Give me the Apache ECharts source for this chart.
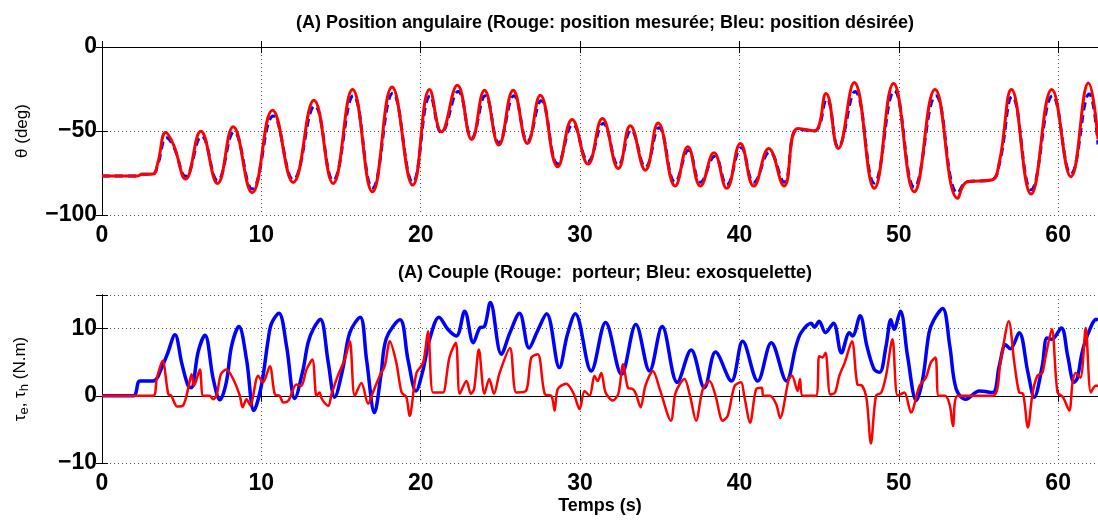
<!DOCTYPE html>
<html>
<head>
<meta charset="utf-8">
<script src="https://cdn.jsdelivr.net/npm/echarts@6/dist/echarts.min.js"></script>
<style>
html,body{margin:0;padding:0;background:#fff;}
#chart{width:1098px;height:521px;}
</style>
</head>
<body>
<div id="chart"></div>
<script>
// ---------- DATA (time in s, value) ----------
const titleTop = "(A) Position angulaire (Rouge: position mesurée; Bleu: position désirée)";
const titleBottom = "(A) Couple (Rouge:  porteur; Bleu: exosquelette)";
const xTicks = [0, 10, 20, 30, 40, 50, 60];
const topYTicks = [-100, -50, 0];
const bottomYTicks = [-10, 0, 10];

// Top: measured position (red)
const posMeasured = [[0,-76.8],[2.2,-76.8],[2.5,-75.8],[3.2,-75.6],[3.5,-69],[4.0,-50.9],[4.5,-58.5],[5.25,-78.6],[6.2,-50.1],[7.25,-81.2],[8.23,-47.5],[9.42,-86.7],[10.7,-37.6],[12.0,-80.6],[13.3,-31.7],[14.5,-81.2],[15.72,-25.3],[16.97,-86.2],[18.2,-23.8],[19.5,-82.2],[20.56,-25.3],[21.3,-50.5],[22.3,-22.8],[23.2,-55],[24.0,-25.7],[24.9,-58.4],[25.8,-25.7],[26.7,-57.4],[27.5,-28.7],[28.6,-71.3],[29.5,-43.1],[30.5,-69.7],[31.4,-42.6],[32.4,-72.3],[33.15,-46.9],[34.1,-73.3],[34.9,-45.2],[35.97,-82.8],[36.76,-59.4],[37.55,-82.8],[38.4,-63],[39.2,-84.1],[40.06,-57.4],[40.9,-82.8],[41.84,-60.4],[42.8,-82.8],[43.65,-48.5],[44.7,-49.9],[45.43,-27.7],[46.2,-60.4],[47.2,-21.2],[48.46,-84.1],[49.67,-21.8],[50.97,-86.2],[52.27,-25.3],[53.7,-90.1],[54.3,-80.2],[55.8,-79.2],[56.3,-69],[57.07,-25.3],[58.3,-87.5],[59.6,-25.3],[60.8,-77.2],[61.9,-21.4],[62.5,-55]];

// Top: desired position (blue dashed)
const posDesired = [[0,-76.8],[2.2,-76.8],[2.5,-75.8],[3.2,-75.6],[3.5,-70],[4.05,-54],[4.5,-59.5],[5.25,-77],[6.25,-53],[7.25,-79.5],[8.28,-50.5],[9.42,-84.5],[10.75,-41],[12.0,-79],[13.35,-35],[14.5,-79.5],[15.77,-29],[16.97,-84],[18.25,-27.5],[19.5,-80.5],[20.6,-29],[21.3,-51],[22.35,-26.5],[23.2,-54],[24.05,-29],[24.9,-57],[25.85,-29],[26.7,-56],[27.55,-32],[28.6,-69.5],[29.55,-46],[30.5,-68],[31.45,-45.5],[32.4,-70.5],[33.2,-49.5],[34.1,-71.5],[34.95,-48],[35.97,-80.5],[36.8,-61.5],[37.55,-80.5],[38.45,-65],[39.2,-82],[40.1,-60],[40.9,-80.5],[41.9,-62.5],[42.8,-80.5],[43.65,-49],[44.7,-50],[45.48,-31],[46.2,-59.5],[47.25,-26.5],[48.46,-81],[49.72,-26],[50.97,-83.5],[52.32,-29],[53.7,-87],[54.3,-80.2],[55.8,-79.2],[56.3,-70],[57.12,-29.5],[58.3,-85],[59.65,-29],[60.8,-75.5],[61.95,-28],[62.5,-58]];

// Bottom: exoskeleton torque (blue)
const torqueExo = [[0,0],[1.96,0],[2.38,2.2],[3.2,2.2],[3.45,2.6],[3.7,3.9],[4.1,6.2],[4.58,9.1],[5.0,4.9],[5.4,1.5],[5.6,1.2],[6.04,6.6],[6.46,9.0],[6.98,2.5],[7.4,-0.6],[7.8,2.0],[8.13,7.4],[8.59,10.3],[9.07,5.4],[9.53,-2.2],[10.0,1.5],[10.43,8.4],[10.64,10.8],[11.1,12.3],[11.58,7.4],[12.1,-0.4],[12.6,3.7],[12.93,7.9],[13.25,9.9],[13.7,11.4],[14.2,4.9],[14.6,-0.2],[15.1,3.9],[15.55,9.4],[16.2,11.7],[16.6,5.4],[17.1,-2.5],[17.5,3.0],[17.85,8.6],[18.7,11.3],[19.2,5.4],[19.7,0.7],[20.15,3.9],[20.56,8.4],[21.15,11.7],[21.7,9.9],[22.24,8.9],[22.76,12.6],[23.3,7.9],[23.7,10.1],[24.0,10.3],[24.37,13.9],[25.06,6.2],[25.6,9.4],[26.2,12.3],[26.8,7.1],[27.3,9.5],[27.9,12.2],[28.7,4.2],[29.2,9.1],[29.7,12.2],[30.7,3.7],[31.6,10.9],[32.6,3.2],[33.5,10.6],[34.36,3.7],[35.15,10.3],[36.1,2.0],[36.97,6.8],[37.8,1.2],[38.5,6.5],[39.5,2.2],[40.2,8.1],[41.15,2.2],[42.0,7.9],[42.95,2.2],[43.55,7.4],[43.87,9.4],[44.5,10.8],[44.7,10.2],[45.0,11.1],[45.4,9.4],[45.9,10.8],[46.4,6.4],[46.9,9.4],[47.1,8.9],[47.57,11.9],[48.0,7.4],[48.46,3.9],[48.8,3.5],[49.2,7.4],[49.5,11.3],[49.7,9.9],[50.1,12.6],[50.55,5.9],[51.1,-0.7],[51.5,2.5],[51.9,9.4],[52.2,11.3],[52.75,13.0],[53.2,7.4],[53.6,1.0],[54.2,-0.5],[55.05,0.7],[55.9,0.5],[56.3,4.4],[56.7,7.6],[57.0,7.0],[57.55,9.4],[58.1,3.5],[58.5,-0.2],[59.0,4.4],[59.3,8.6],[59.6,8.4],[60.2,10.1],[60.6,5.9],[61.0,2.0],[61.2,2.6],[61.5,6.4],[61.85,9.1],[62.4,11.4],[62.5,11.2]];

// Bottom: wearer torque (red)
const torqueWearer = [[0,0],[3.2,0],[3.43,2.5],[3.8,5.2],[4.16,0.25],[4.35,0],[4.72,-1.6],[5.1,-1.4],[5.4,1.0],[5.62,3.2],[5.78,1.5],[6.14,3.9],[6.35,0],[6.75,0],[6.98,-0.5],[7.2,0.2],[7.46,3.2],[7.8,3.9],[8.23,2.5],[8.65,0],[8.82,-1.7],[9.07,-0.5],[9.3,-1.4],[9.8,3.0],[10.1,2.0],[10.53,4.4],[10.85,0.2],[11.15,0],[11.37,-1.0],[11.7,-0.7],[12.2,1.7],[12.5,1.5],[12.83,3.9],[13.2,5.4],[13.46,0],[13.65,0.5],[13.8,-0.5],[14.2,-1.5],[14.4,0.2],[14.8,3.0],[15.23,5.4],[15.55,8.1],[15.86,0],[16.28,1.9],[16.7,-1.2],[17.0,0.5],[17.43,3.0],[17.74,4.4],[18.06,8.1],[18.47,4.9],[18.8,0.5],[19.1,-0.2],[19.3,-3.0],[19.73,3.4],[20.15,4.9],[20.46,9.6],[20.77,0.5],[21.2,0.5],[21.4,0.5],[21.8,5.7],[22.2,7.9],[22.45,0.3],[22.87,2.2],[23.15,0.3],[23.35,1.0],[23.65,6.9],[24.0,0.3],[24.3,2.5],[24.6,0.3],[24.95,3.4],[25.6,7.1],[26.0,0.5],[26.6,0.7],[26.94,5.7],[27.35,6.2],[27.78,0.3],[28.2,0],[28.4,-2.2],[28.6,1.0],[29.13,1.8],[29.6,0.3],[29.97,-2.0],[30.28,0.7],[30.6,0],[30.9,3.0],[31.1,2.2],[31.33,3.4],[31.6,0.5],[32.06,-0.7],[32.4,0.3],[32.7,4.7],[33.0,1.2],[33.3,1.0],[33.5,0.3],[33.8,-1.7],[34.1,1.5],[34.57,3.7],[35.0,1.0],[35.7,-3.7],[36.0,0.5],[36.55,2.5],[36.9,0],[37.28,-3.7],[37.7,1.0],[38.12,2.2],[38.5,0],[38.95,-3.7],[39.26,-3.0],[39.7,1.5],[40.1,2.0],[40.3,0],[40.67,-4.0],[41.05,1.0],[41.4,1.2],[41.5,0],[41.9,0],[42.3,-1.2],[42.55,-3.3],[43.1,2.5],[43.3,3.0],[43.65,0.7],[43.8,2.5],[43.97,0],[44.8,0],[45.0,5.9],[45.2,5.7],[45.4,6.4],[45.7,0.2],[46.0,0.5],[46.27,3.0],[46.6,4.9],[47.06,8.1],[47.4,1.7],[47.7,1.5],[47.98,-0.5],[48.25,-7.1],[48.57,0],[48.9,0.5],[49.2,3.0],[49.6,8.4],[49.93,0],[50.35,0.5],[50.76,-2.5],[51.3,1.5],[51.7,2.7],[52.0,4.9],[52.3,5.7],[52.5,0],[52.9,0],[53.2,-1.4],[53.4,-4.5],[53.7,0],[55.9,0],[56.4,5.4],[56.9,11.1],[57.25,4.9],[57.55,0.5],[57.8,0.3],[58.1,-4.7],[58.4,0.5],[58.7,3.0],[59.0,3.4],[59.2,5.7],[59.6,9.9],[59.96,0.5],[60.3,-0.2],[60.7,-2.2],[60.9,2.0],[61.1,3.4],[61.4,2.7],[61.73,10.1],[62.05,0.5],[62.35,1.5],[62.5,1.5]];

// ---------- CHART ----------
const FONT = "'Liberation Sans', Arial, Helvetica, sans-serif";
const fmt = v => (v < 0 ? '\u2212' + Math.abs(v) : String(v));
const chart = echarts.init(document.getElementById('chart'), null, {renderer: 'canvas'});

const gridTop = {left: 102, top: 47, width: 997, height: 168};
const gridBot = {left: 102, top: 295, width: 997, height: 168};

function xAxisMain(gi, name) {
  return {
    type: 'value', gridIndex: gi, min: 0, max: 62.5, interval: 10,
    axisLine: {show: true, lineStyle: {color: '#000', width: 1}},
    axisTick: {show: true, inside: true, length: 6, lineStyle: {color: '#000'}},
    axisLabel: {show: true, showMaxLabel: false, color: '#000', fontFamily: FONT, fontWeight: 'bold', fontSize: 23, margin: 9,
      formatter: v => (xTicks.indexOf(v) >= 0 ? fmt(v) : '')},
    splitLine: {show: true, lineStyle: {color: '#555', width: 1, type: [1, 3]}},
    name: name || '', nameLocation: 'middle', nameGap: 34,
    nameTextStyle: {color: '#000', fontFamily: FONT, fontWeight: 'bold', fontSize: 18}
  };
}
function xAxisTop(gi) {
  return {
    type: 'value', gridIndex: gi, position: 'top', min: 0, max: 62.5, interval: 10,
    axisLine: {show: true, lineStyle: {color: '#000', width: 1}},
    axisTick: {show: true, inside: true, length: 6, lineStyle: {color: '#000'}},
    axisLabel: {show: false}, splitLine: {show: false}
  };
}
function yAxisMain(gi, min, max, ticks, name) {
  return {
    type: 'value', gridIndex: gi, min: min, max: max, interval: ticks[1] - ticks[0],
    axisLine: {show: true, lineStyle: {color: '#000', width: 1}},
    axisTick: {show: true, inside: true, length: 6, lineStyle: {color: '#000'}},
    axisLabel: {show: true, color: '#000', fontFamily: FONT, fontWeight: 'bold', fontSize: 23, margin: 5,
      formatter: v => (ticks.indexOf(v) >= 0 ? fmt(v) : '')},
    splitLine: {show: true, lineStyle: {color: '#555', width: 1, type: [1, 3]}},
    name: name, nameLocation: 'middle', nameGap: 71, nameRotate: 90,
    nameTextStyle: {color: '#000', fontFamily: FONT, fontSize: 17,
      rich: {
        t: {fontFamily: FONT, fontSize: 17, color: '#000', lineHeight: 22},
        s: {fontFamily: FONT, fontSize: 13, color: '#000', verticalAlign: 'bottom', lineHeight: 16}
      }}
  };
}
function yAxisRight(gi, min, max, interval) {
  return {
    type: 'value', gridIndex: gi, position: 'right', min: min, max: max, interval: interval,
    axisLine: {show: true, lineStyle: {color: '#000', width: 1}},
    axisTick: {show: true, inside: true, length: 6, lineStyle: {color: '#000'}},
    axisLabel: {show: false}, splitLine: {show: false}
  };
}

const option = {
  animation: false,
  backgroundColor: '#fff',
  title: [
    {text: titleTop, left: 600, top: 9, textAlign: 'center',
     textStyle: {fontFamily: FONT, fontWeight: 'bold', fontSize: 18, color: '#000'}},
    {text: titleBottom, left: 600, top: 259, textAlign: 'center',
     textStyle: {fontFamily: FONT, fontWeight: 'bold', fontSize: 18, color: '#000'}}
  ],
  grid: [gridTop, gridBot],
  xAxis: [xAxisMain(0), xAxisMain(1, 'Temps (s)'), xAxisTop(0), xAxisTop(1)],
  yAxis: [
    yAxisMain(0, -100, 0, topYTicks, '\u03b8 (deg)'),
    yAxisMain(1, -10, 15, bottomYTicks, '{t|\u03c4}{s|e}{t|, \u03c4}{s|h}{t| (N.m)}'),
    yAxisRight(0, -100, 0, 50),
    yAxisRight(1, -10, 15, 10)
  ],
  series: [
    {type: 'line', name: 'désirée', xAxisIndex: 0, yAxisIndex: 0, data: posDesired, showSymbol: false, smooth: 0.45,
     lineStyle: {color: '#0000ff', width: 3, type: [8, 5]}, z: 2},
    {type: 'line', name: 'mesurée', xAxisIndex: 0, yAxisIndex: 0, data: posMeasured, showSymbol: false, smooth: 0.45,
     lineStyle: {color: '#ff0000', width: 3}, z: 3},
    {type: 'line', name: 'exosquelette', xAxisIndex: 1, yAxisIndex: 1, data: torqueExo, showSymbol: false, smooth: 0.35,
     lineStyle: {color: '#0000ff', width: 3.5}, z: 2},
    {type: 'line', name: 'porteur', xAxisIndex: 1, yAxisIndex: 1, data: torqueWearer, showSymbol: false, smooth: 0.3,
     lineStyle: {color: '#ff0000', width: 2.5}, z: 3}
  ]
};
chart.setOption(option);
</script>
</body>
</html>
